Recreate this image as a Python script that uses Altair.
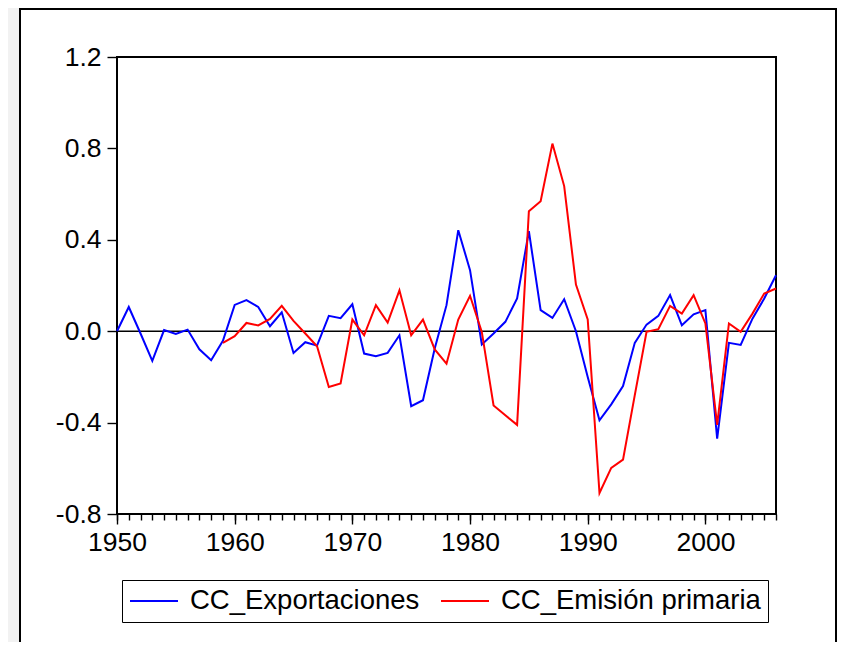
import altair as alt
import pandas as pd

# ---- data ----
years = [1950, 1951, 1952, 1953, 1954, 1955, 1956, 1957, 1958, 1959,
         1960, 1961, 1962, 1963, 1964, 1965, 1966, 1967, 1968, 1969,
         1970, 1971, 1972, 1973, 1974, 1975, 1976, 1977, 1978, 1979,
         1980, 1981, 1982, 1983, 1984, 1985, 1986, 1987, 1988, 1989,
         1990, 1991, 1992, 1993, 1994, 1995, 1996, 1997, 1998, 1999,
         2000, 2001, 2002, 2003, 2004, 2005, 2006]

exportaciones = [0.000, 0.106, -0.010, -0.130, 0.005, -0.012, 0.007, -0.079, -0.127, -0.042,
                 0.115, 0.136, 0.106, 0.022, 0.083, -0.095, -0.048, -0.063, 0.067, 0.057,
                 0.118, -0.098, -0.109, -0.095, -0.018, -0.328, -0.302, -0.076, 0.114, 0.442,
                 0.267, -0.058, -0.010, 0.041, 0.143, 0.438, 0.092, 0.058, 0.140, 0.000,
                 -0.200, -0.390, -0.320, -0.240, -0.051, 0.029, 0.067, 0.158, 0.026, 0.074,
                 0.092, -0.470, -0.051, -0.060, 0.055, 0.143, 0.245]

emision_years = [1959,
                 1960, 1961, 1962, 1963, 1964, 1965, 1966, 1967, 1968, 1969,
                 1970, 1971, 1972, 1973, 1974, 1975, 1976, 1977, 1978, 1979,
                 1980, 1981, 1982, 1983, 1984, 1985, 1986, 1987, 1988, 1989,
                 1990, 1991, 1992, 1993, 1994, 1995, 1996, 1997, 1998, 1999,
                 2000, 2001, 2002, 2003, 2004, 2005, 2006]

emision = [-0.051,
           -0.022, 0.036, 0.025, 0.054, 0.111, 0.045, -0.010, -0.066, -0.244, -0.229,
           0.051, -0.018, 0.114, 0.038, 0.179, -0.018, 0.051, -0.080, -0.142, 0.051,
           0.155, -0.003, -0.325, -0.368, -0.410, 0.525, 0.569, 0.821, 0.635, 0.204,
           0.051, -0.708, -0.598, -0.562, -0.280, -0.003, 0.009, 0.111, 0.077, 0.158,
           0.034, -0.410, 0.034, -0.003, 0.077, 0.165, 0.187]

series_names = ["CC_Exportaciones", "CC_Emisión primaria"]
series_colors = ["#0000ff", "#ff0000"]
x_label_years = [1950, 1960, 1970, 1980, 1990, 2000]
y_ticks = [-0.8, -0.4, 0.0, 0.4, 0.8, 1.2]

df = pd.DataFrame({
    "year": years + emision_years,
    "value": exportaciones + emision,
    "series": [series_names[0]] * len(years) + [series_names[1]] * len(emision_years),
})

FONT = "Liberation Sans"
W, H = 659, 457

xscale = alt.Scale(domain=[1950, 2006], nice=False, zero=False)
yscale = alt.Scale(domain=[-0.8, 1.2], nice=False, zero=False)

outer_frame = alt.Chart(pd.DataFrame({"a": [0]})).mark_rect(
    fill="white", stroke="black", strokeWidth=2
).encode(x=alt.value(-97), x2=alt.value(719), y=alt.value(-48), y2=alt.value(720))

plot_border = alt.Chart(pd.DataFrame({"a": [0]})).mark_rect(
    fillOpacity=0, stroke="black", strokeWidth=2
).encode(x=alt.value(0), x2=alt.value(W), y=alt.value(0), y2=alt.value(H))

zero_rule = alt.Chart(pd.DataFrame({"y": [0.0]})).mark_rule(
    color="black", strokeWidth=1.6
).encode(y=alt.Y("y:Q", scale=yscale))

minor = alt.Chart(pd.DataFrame({"year": years})).mark_point(opacity=0).encode(
    x=alt.X("year:Q", scale=xscale,
            axis=alt.Axis(values=years, labels=False, tickSize=6, tickWidth=1.4,
                          tickColor="black", domain=False, grid=False, title=None,
                          orient="bottom", zindex=2))
)

lines = alt.Chart(df).mark_line(strokeWidth=2).encode(
    x=alt.X("year:Q", scale=xscale,
            axis=alt.Axis(values=x_label_years, format="d", tickSize=10, tickWidth=1.4,
                          tickColor="black", labelFont=FONT, labelFontSize=26.5,
                          labelColor="black", labelPadding=5, labelFlush=False,
                          labelOverlap=False, domain=False, grid=False, title=None,
                          orient="bottom", zindex=2)),
    y=alt.Y("value:Q", scale=yscale,
            axis=alt.Axis(values=y_ticks, format=".1f",
                          labelExpr="replace(datum.label, '\u2212', '-')",
                          tickSize=10, tickWidth=1.4,
                          tickColor="black", labelFont=FONT, labelFontSize=26.5,
                          labelColor="black", labelPadding=6, labelOverlap=False,
                          domain=False, grid=False, title=None, zindex=2)),
    color=alt.Color("series:N",
                    scale=alt.Scale(domain=series_names, range=series_colors),
                    sort=series_names,
                    legend=alt.Legend(orient="none", legendX=5, legendY=523,
                                      direction="horizontal", title=None,
                                      symbolType="stroke", symbolSize=2304,
                                      symbolStrokeWidth=2, labelFont=FONT,
                                      labelFontSize=27.5, labelColor="black",
                                      labelOffset=11, columnPadding=20, padding=7,
                                      clipHeight=28,
                                      labelLimit=0, strokeColor="black",
                                      fillColor="white", zindex=2)),
    order=alt.Order("year:Q"),
)

chart = alt.layer(outer_frame, plot_border, zero_rule, minor, lines).resolve_axis(
    x="independent"
).properties(
    width=W, height=H,
    padding={"left": 109, "top": 49, "right": 61, "bottom": 128},
    autosize=alt.AutoSizeParams(type="none"),
    background="#f2f2f2",
).configure_view(strokeWidth=0)

chart.save("out.html", embed_options={"renderer": "svg", "actions": False})
